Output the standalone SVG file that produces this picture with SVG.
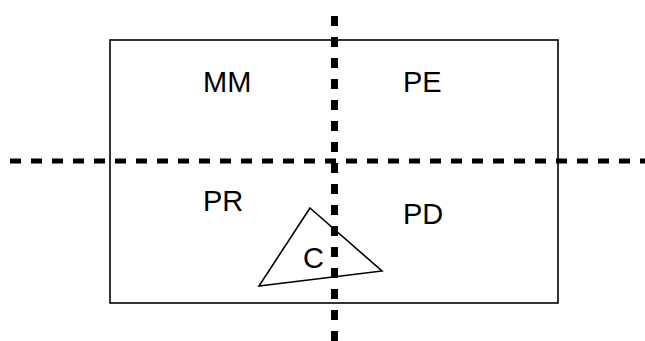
<svg xmlns="http://www.w3.org/2000/svg" width="645" height="341" viewBox="0 0 645 341">
<style>
.lbl{font-family:"Liberation Sans",Arial,sans-serif;font-size:29px;fill:#000}
.sh{fill:#fff;stroke:#000;stroke-width:1.6}
.dash{stroke:#000;fill:none}
</style>
<rect width="645" height="341" fill="#fff"/>
<g id="frame"><rect class="sh" x="110" y="40" width="448" height="263"/></g>
<g id="triangle"><polygon class="sh" points="310,208 382,271 259,286"/></g>
<g id="connectors">
<line class="dash" x1="10" y1="161" x2="645" y2="161" stroke-width="5" stroke-dasharray="11 10"/>
<line class="dash" x1="334.5" y1="16" x2="334.5" y2="341" stroke-width="7" stroke-dasharray="10 11"/>
</g>
<g id="MM"><text class="lbl" x="203" y="92">MM</text></g>
<g id="PE"><text class="lbl" x="403" y="92">PE</text></g>
<g id="PR"><text class="lbl" x="203" y="211">PR</text></g>
<g id="PD"><text class="lbl" x="403" y="224">PD</text></g>
<g id="C"><text class="lbl" x="303" y="268">C</text></g>
</svg>
